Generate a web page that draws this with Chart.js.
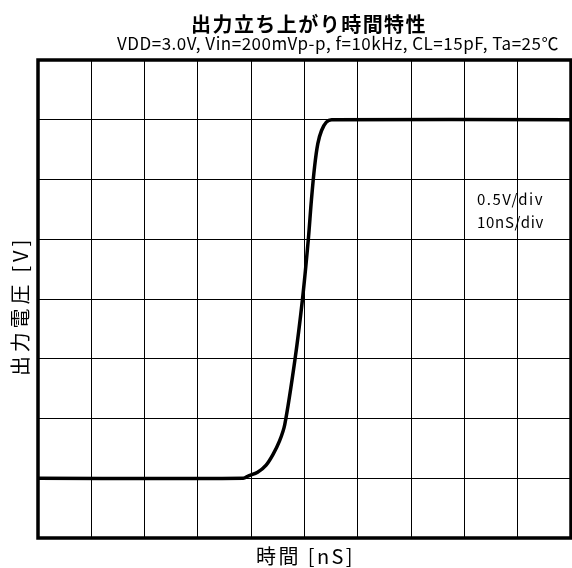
<!DOCTYPE html>
<html>
<head>
<meta charset="utf-8">
<script src="https://cdn.jsdelivr.net/npm/chart.js@4/dist/chart.umd.min.js"></script>
<style>
  html, body { margin: 0; padding: 0; background: #fff; }
  canvas { display: block; }
</style>
</head>
<body>
<canvas id="riseChart" width="572" height="568"></canvas>
<script>
// waveform (time in nS, output in V)
const timeNs = [0, 38.5, 39.5, 41.2, 42.8, 44.1, 45.3, 46.3, 48.2, 49.6, 50.7, 51.3, 51.9, 52.5, 53.2, 54.1, 55.1, 100];
const voltOut = [0, 0, 0.02, 0.05, 0.11, 0.2, 0.31, 0.45, 0.99, 1.49, 1.99, 2.33, 2.61, 2.8, 2.91, 2.98, 3.0, 3.0];

const titleText = '出力立ち上がり時間特性';
const subTitleText = 'VDD=3.0V, Vin=200mVp-p, f=10kHz, CL=15pF, Ta=25\u2103';
const xTitle = '時間 [nS]';
const yTitle = '出力電圧 [V]';
const noteLines = ['0.5V/div', '10nS/div'];

const fontFamily = '"Noto Sans CJK JP", "Noto Sans", sans-serif';

// the original uses a half-width gothic font, so stretch the text to its width
function fitText(ctx, text, font, width) {
    ctx.font = font;
    ctx.letterSpacing = '0px';
    const w = ctx.measureText(text).width;
    const n = Array.from(text).length;
    ctx.letterSpacing = Math.max(0, (width - w) / n) + 'px';
}

// frame, titles and the div note
const scopePlugin = {
    id: 'scopeFrame',
    afterDraw(chart) {
        const ctx = chart.ctx;
        const a = chart.chartArea;
        ctx.save();

        ctx.strokeStyle = '#000';
        ctx.lineWidth = 3.5;
        ctx.strokeRect(a.left, a.top, a.right - a.left, a.bottom - a.top);

        ctx.fillStyle = '#000';
        ctx.textBaseline = 'middle';
        ctx.textAlign = 'left';

        fitText(ctx, titleText, 'bold 20px ' + fontFamily, 236);
        ctx.fillText(titleText, 191, 24);

        fitText(ctx, subTitleText, '17px ' + fontFamily, 442);
        ctx.fillText(subTitleText, 117, 44);

        fitText(ctx, xTitle, '20px ' + fontFamily, 99);
        ctx.fillText(xTitle, 256, 556);

        ctx.save();
        ctx.translate(20, 376);
        ctx.rotate(-Math.PI / 2);
        fitText(ctx, yTitle, '20px ' + fontFamily, 140);
        ctx.fillText(yTitle, 0, 0);
        ctx.restore();

        fitText(ctx, noteLines[0], '15px ' + fontFamily, 67);
        ctx.fillText(noteLines[0], 477, 199);
        fitText(ctx, noteLines[1], '15px ' + fontFamily, 67);
        ctx.fillText(noteLines[1], 477, 222);

        ctx.restore();
    }
};

const ctx = document.getElementById('riseChart').getContext('2d');
new Chart(ctx, {
    type: 'line',
    data: {
        datasets: [{
            label: '出力電圧',
            data: timeNs.map((t, i) => ({ x: t, y: voltOut[i] })),
            borderColor: '#000',
            borderWidth: 3.5,
            pointRadius: 0,
            pointHoverRadius: 0,
            tension: 0.3,
            fill: false
        }]
    },
    options: {
        responsive: false,
        animation: false,
        events: [],
        layout: {
            autoPadding: false,
            padding: {
                left: 38,
                right: 1,
                top: 60,
                bottom: 30
            }
        },
        plugins: {
            legend: { display: false },
            title: { display: false },
            tooltip: { enabled: false }
        },
        scales: {
            x: {
                type: 'linear',
                min: 0,
                max: 100,
                ticks: { stepSize: 10, display: false },
                grid: { color: '#000', lineWidth: 1, drawTicks: false },
                border: { display: false }
            },
            y: {
                min: -0.5,
                max: 3.5,
                ticks: { stepSize: 0.5, display: false },
                grid: { color: '#000', lineWidth: 1, drawTicks: false },
                border: { display: false }
            }
        }
    },
    plugins: [scopePlugin]
});
</script>
</body>
</html>
